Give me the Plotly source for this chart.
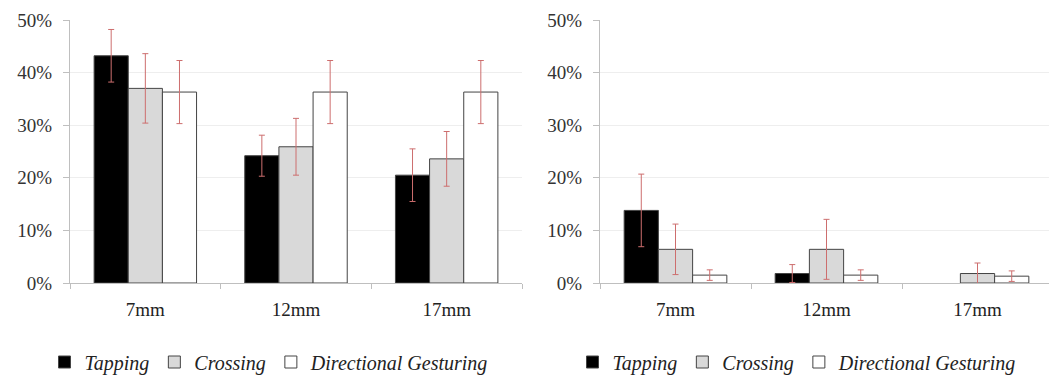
import plotly.graph_objects as go

categories = ["7mm", "12mm", "17mm"]
series_names = ["Tapping", "Crossing", "Directional Gesturing"]

# Left chart values (fractions) and error margins
left_tapping = [0.432, 0.242, 0.205]
left_crossing = [0.370, 0.259, 0.236]
left_directional = [0.363, 0.363, 0.363]
left_tapping_err = [0.050, 0.039, 0.050]
left_crossing_err = [0.066, 0.054, 0.052]
left_directional_err = [0.060, 0.060, 0.060]

# Right chart values (fractions) and error margins (no Tapping bar at 17mm)
right_tapping = [0.138, 0.018, None]
right_crossing = [0.064, 0.064, 0.018]
right_directional = [0.015, 0.015, 0.013]
right_tapping_err = [0.069, 0.017, None]
right_crossing_err = [0.048, 0.057, 0.020]
right_directional_err = [0.010, 0.010, 0.010]

y_ticks = [0, 0.1, 0.2, 0.3, 0.4, 0.5]
y_tick_labels = ["0%", "10%", "20%", "30%", "40%", "50%"]

fills = ["#000000", "#d9d9d9", "#ffffff"]
FONT = "Liberation Serif"
ERR_COLOR = "rgb(205,110,110)"

fig = go.Figure()

left_vals = [left_tapping, left_crossing, left_directional]
left_errs = [left_tapping_err, left_crossing_err, left_directional_err]
right_vals = [right_tapping, right_crossing, right_directional]
right_errs = [right_tapping_err, right_crossing_err, right_directional_err]

for i, name in enumerate(series_names):
    fig.add_trace(go.Bar(
        x=categories, y=left_vals[i], name=name,
        marker=dict(color=fills[i], line=dict(color="#444444", width=1)),
        error_y=dict(type="data", array=left_errs[i], color=ERR_COLOR, thickness=1, width=3),
        xaxis="x", yaxis="y", legend="legend",
    ))
for i, name in enumerate(series_names):
    fig.add_trace(go.Bar(
        x=categories, y=right_vals[i], name=name,
        marker=dict(color=fills[i], line=dict(color="#444444", width=1)),
        error_y=dict(type="data", array=right_errs[i], color=ERR_COLOR, thickness=1, width=3),
        xaxis="x2", yaxis="y2", legend="legend2",
    ))

# page body has an 8px margin, so figure coordinates are offset by 8px
W, H = 1057, 376
ydom = [1 - 275 / H, 1 - 12 / H]

xaxis_common = dict(
    type="category", showline=True, linecolor="#bfbfbf", linewidth=1,
    ticks="outside", tickson="boundaries", ticklen=5, tickcolor="#bfbfbf",
    tickfont=dict(family=FONT, size=19, color="#222222"),
    showgrid=False, zeroline=False, automargin=False, ticklabelstandoff=9,
)
yaxis_common = dict(
    range=[0, 0.5], tickvals=y_ticks, ticktext=y_tick_labels,
    showline=True, linecolor="#bfbfbf", linewidth=1,
    ticks="outside", ticklen=6, tickcolor="#bfbfbf",
    tickfont=dict(family=FONT, size=19, color="#333333"),
    showgrid=True, gridcolor="#eeeeee", gridwidth=1, zeroline=False,
    automargin=False, ticklabelstandoff=7, domain=ydom,
)

legend_common = dict(
    orientation="h", yanchor="middle", xanchor="center",
    font=dict(family=FONT, size=20, color="#222222", style="italic"),
    bgcolor="rgba(0,0,0,0)", itemwidth=30, traceorder="normal",
)

fig.update_layout(
    width=W, height=H,
    margin=dict(l=0, r=0, t=0, b=0),
    paper_bgcolor="white", plot_bgcolor="white",
    barmode="group", bargap=0.32, bargroupgap=0,
    xaxis=dict(domain=[62 / W, 514 / W], anchor="y", **xaxis_common),
    yaxis=dict(anchor="x", **yaxis_common),
    xaxis2=dict(domain=[592 / W, 1045 / W], anchor="y2", **xaxis_common),
    yaxis2=dict(anchor="x2", **yaxis_common),
    legend=dict(x=261 / W, y=1 - 354 / H, **legend_common),
    legend2=dict(x=789 / W, y=1 - 354 / H, **legend_common),
    showlegend=True,
)

fig.write_html("out.html")
